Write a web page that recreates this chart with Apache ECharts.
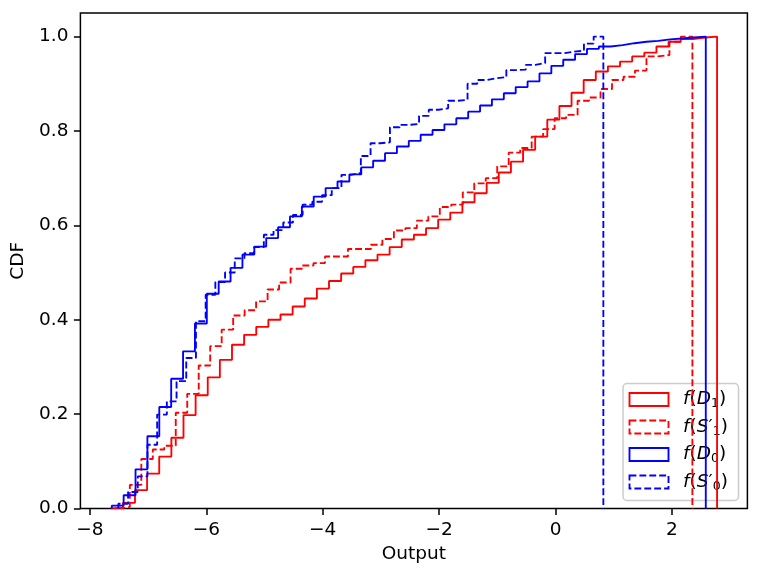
<!DOCTYPE html>
<html>
<head>
<meta charset="utf-8">
<script src="https://cdn.jsdelivr.net/npm/echarts@6/dist/echarts.min.js"></script>
<style>
html, body { margin: 0; background: #fff; }
#chart { width: 761px; height: 580px; }
</style>
</head>
<body>
<div id="chart"></div>
<script>
// bin ranges [first edge, last edge], 50 equal bins each
const rangeD1 = [-7.643, 2.775];
const rangeS1 = [-7.512, 2.351];
const rangeD0 = [-7.625, 2.581];
const rangeS0 = [-7.512, 0.821];

// cumulative level of every bin
const cdfD1 = [0.002, 0.012, 0.039, 0.074, 0.11, 0.15, 0.198, 0.24, 0.278, 0.315,
  0.347, 0.368, 0.385, 0.4, 0.411, 0.428, 0.445, 0.466, 0.482, 0.498,
  0.512, 0.526, 0.538, 0.554, 0.57, 0.58, 0.594, 0.612, 0.627, 0.649,
  0.668, 0.69, 0.712, 0.735, 0.76, 0.788, 0.824, 0.853, 0.881, 0.908,
  0.926, 0.937, 0.947, 0.958, 0.966, 0.979, 0.989, 0.995, 0.998, 1.0];
const cdfS1 = [0.003, 0.05, 0.105, 0.125, 0.133, 0.203, 0.243, 0.303, 0.344, 0.379,
  0.409, 0.42, 0.439, 0.464, 0.479, 0.508, 0.515, 0.52, 0.534, 0.534,
  0.55, 0.55, 0.559, 0.571, 0.589, 0.594, 0.61, 0.619, 0.639, 0.644,
  0.67, 0.689, 0.7, 0.725, 0.754, 0.764, 0.788, 0.804, 0.827, 0.834,
  0.864, 0.871, 0.889, 0.908, 0.915, 0.928, 0.958, 0.961, 0.989, 1.0];
const cdfD0 = [0.006, 0.028, 0.083, 0.153, 0.215, 0.275, 0.333, 0.392, 0.455, 0.481,
  0.51, 0.538, 0.555, 0.573, 0.596, 0.619, 0.64, 0.661, 0.679, 0.693,
  0.708, 0.723, 0.737, 0.753, 0.767, 0.779, 0.792, 0.802, 0.814, 0.827,
  0.841, 0.854, 0.867, 0.88, 0.893, 0.905, 0.922, 0.938, 0.951, 0.963,
  0.974, 0.979, 0.982, 0.986, 0.989, 0.991, 0.994, 0.996, 0.998, 1.0];
const cdfS0 = [0.01, 0.035, 0.068, 0.135, 0.199, 0.227, 0.27, 0.319, 0.397, 0.453,
  0.48, 0.5, 0.53, 0.541, 0.554, 0.58, 0.59, 0.606, 0.622, 0.644,
  0.65, 0.664, 0.679, 0.707, 0.711, 0.747, 0.774, 0.776, 0.808, 0.813,
  0.815, 0.832, 0.845, 0.848, 0.864, 0.866, 0.9, 0.908, 0.912, 0.914,
  0.929, 0.93, 0.94, 0.944, 0.965, 0.965, 0.968, 0.97, 0.985, 1.0];

const xTicks = [-8, -6, -4, -2, 0, 2];
const yTicks = [0, 0.2, 0.4, 0.6, 0.8, 1.0];

const FONT = 'DejaVu Sans';
const RED = '#ff0000', BLUE = '#0000ff';
const LW = 1.86;
const DASH = [6.9, 3];

// outline of a cumulative step histogram
function stepPath(range, levels) {
  const n = levels.length;
  const w = (range[1] - range[0]) / n;
  const pts = [[range[0], 0]];
  levels.forEach((v, k) => {
    pts.push([range[0] + k * w, v], [range[0] + (k + 1) * w, v]);
  });
  pts.push([range[1], 0]);
  return pts;
}

function stepSeries(name, range, levels, color, dashed) {
  return {
    name: name,
    type: 'line',
    data: stepPath(range, levels),
    symbol: 'none',
    silent: true,
    lineStyle: { color: color, width: LW, type: dashed ? DASH : 'solid' },
  };
}

const minus = v => (v < 0 ? '\u2212' + Math.abs(v) : String(v));

// legend drawn by hand: matplotlib shows outlined rectangles
const legendRows = [
  { text: '{i|f}({i|D}{s|1})', color: RED, dashed: false },
  { text: '{i|f}({i|S}\u2032{s|1})', color: RED, dashed: true },
  { text: '{i|f}({i|D}{s|0})', color: BLUE, dashed: false },
  { text: '{i|f}({i|S}\u2032{s|0})', color: BLUE, dashed: true },
];
const rich = {
  i: { fontStyle: 'italic', fontFamily: FONT, fontSize: 18.5, lineHeight: 22, verticalAlign: 'middle' },
  s: { fontFamily: FONT, fontSize: 12.5, lineHeight: 12, verticalAlign: 'bottom' },
};
const legendEls = [{
  type: 'rect',
  shape: { x: 623, y: 383.5, width: 115.5, height: 117, r: 4 },
  style: { fill: 'rgba(255,255,255,0.8)', stroke: '#cccccc', lineWidth: 1.5 },
}];
legendRows.forEach((row, i) => {
  const cy = 399.5 + i * 27.5;
  legendEls.push({
    type: 'rect',
    shape: { x: 629.5, y: cy - 6.5, width: 39, height: 13 },
    style: { fill: 'none', stroke: row.color, lineWidth: LW, lineDash: row.dashed ? DASH : null },
  });
  legendEls.push({
    type: 'text',
    style: {
      x: 683, y: cy, text: row.text, rich: rich,
      fontFamily: FONT, fontSize: 18.5, lineHeight: 22,
      fill: '#000', verticalAlign: 'middle', align: 'left',
    },
  });
});

const chart = echarts.init(document.getElementById('chart'), null, { renderer: 'canvas' });
chart.setOption({
  animation: false,
  backgroundColor: '#fff',
  grid: {
    left: 80.4, top: 13, width: 667, height: 495.5,
    show: true, borderColor: '#000', borderWidth: 1.5, backgroundColor: 'transparent',
  },
  xAxis: {
    type: 'value', min: -8.164, max: 3.296,
    name: 'Output', nameLocation: 'middle', nameGap: 36,
    nameTextStyle: { color: '#000', fontFamily: FONT, fontSize: 18.5 },
    axisLine: { show: false, onZero: false },
    splitLine: { show: false },
    axisTick: { show: true, length: 6.5, customValues: xTicks, lineStyle: { color: '#000', width: 1.5 } },
    axisLabel: { customValues: xTicks, formatter: minus, color: '#000', fontFamily: FONT, fontSize: 18.5, margin: 12 },
  },
  yAxis: {
    type: 'value', min: 0, max: 1.05,
    name: 'CDF', nameLocation: 'middle', nameGap: 52, nameRotate: 90,
    nameTextStyle: { color: '#000', fontFamily: FONT, fontSize: 18.5 },
    axisLine: { show: false, onZero: false },
    splitLine: { show: false },
    axisTick: { show: true, length: 6.5, customValues: yTicks, lineStyle: { color: '#000', width: 1.5 } },
    axisLabel: { customValues: yTicks, formatter: v => v.toFixed(1), color: '#000', fontFamily: FONT, fontSize: 18.5, margin: 12 },
  },
  series: [
    stepSeries('f(D1)', rangeD1, cdfD1, RED, false),
    stepSeries("f(S'1)", rangeS1, cdfS1, RED, true),
    stepSeries('f(D0)', rangeD0, cdfD0, BLUE, false),
    stepSeries("f(S'0)", rangeS0, cdfS0, BLUE, true),
  ],
  graphic: [{ type: 'group', silent: true, z: 100, children: legendEls }],
});
</script>
</body>
</html>
